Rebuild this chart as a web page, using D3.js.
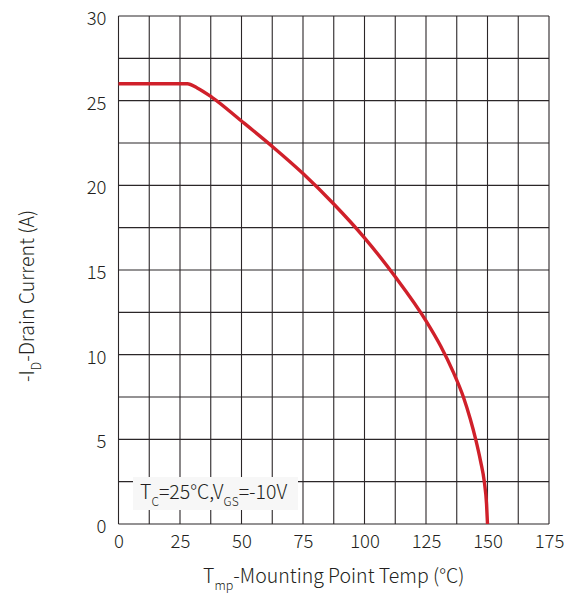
<!DOCTYPE html>
<html>
<head>
<meta charset="utf-8">
<script src="https://cdn.jsdelivr.net/npm/d3@7"></script>
<style>
  body { margin: 0; background: #fff; }
  text { font-family: "Noto Sans CJK SC", "Noto Sans", sans-serif; font-weight: 300; fill: #231f20; }
</style>
</head>
<body>
<div id="chart"></div>
<script>
// Curve: mounting point temp (°C) vs -I_D (A)
var temps    = [0, 28, 32, 38, 50, 62.5, 75, 87.5, 100, 112.5, 125, 131, 136, 140.2, 143, 145.2, 147.2, 148.7, 149.6, 150];
var currents = [26, 26, 25.75, 25.2, 23.8, 22.3, 20.7, 18.9, 16.9, 14.6, 12.0, 10.5, 9.0, 7.5, 6.2, 5.0, 3.7, 2.5, 1.2, 0];

var xTicks = [0, 25, 50, 75, 100, 125, 150, 175];
var yTicks = [0, 5, 10, 15, 20, 25, 30];
var xGrid = d3.range(0, 175.1, 12.5);
var yGrid = d3.range(0, 30.1, 2.5);

var width = 576, height = 594;
var margin = {top: 16, right: 27, bottom: 70, left: 118.5};

var x = d3.scaleLinear().domain([0, 175]).range([margin.left, width - margin.right]);
var y = d3.scaleLinear().domain([0, 30]).range([height - margin.bottom, margin.top]);

var svg = d3.select("#chart").append("svg")
  .attr("width", width)
  .attr("height", height);

// grid
svg.append("g").selectAll("line.v")
  .data(xGrid).enter().append("line")
  .attr("x1", function(d) { return x(d); })
  .attr("x2", function(d) { return x(d); })
  .attr("y1", y(0)).attr("y2", y(30))
  .attr("stroke", "#2b2628").attr("stroke-width", 1.1);

svg.append("g").selectAll("line.h")
  .data(yGrid).enter().append("line")
  .attr("y1", function(d) { return y(d); })
  .attr("y2", function(d) { return y(d); })
  .attr("x1", x(0)).attr("x2", x(175))
  .attr("stroke", "#2b2628").attr("stroke-width", 1.1);

// axes (labels only)
var xAxis = d3.axisBottom(x).tickValues(xTicks).tickSize(0).tickPadding(11);
var gx = svg.append("g").attr("transform", "translate(0," + y(0) + ")").call(xAxis);
gx.select(".domain").remove();
gx.selectAll("text").style("font-size", "18.5px").attr("fill", "#231f20");

var yAxis = d3.axisLeft(y).tickValues(yTicks).tickSize(0).tickPadding(12);
var gy = svg.append("g").attr("transform", "translate(" + x(0) + ",2.5)").call(yAxis);
gy.select(".domain").remove();
gy.selectAll("text").style("font-size", "18.5px").attr("fill", "#231f20");

// condition label
svg.append("rect")
  .attr("x", 133).attr("y", 477).attr("width", 165).attr("height", 33)
  .attr("fill", "#f7f7f7");

var cond = svg.append("text")
  .attr("x", 140).attr("y", 498.5)
  .style("font-size", "19.5px");
cond.append("tspan").text("T");
cond.append("tspan").attr("dy", 7).style("font-size", "12px").text("C");
cond.append("tspan").attr("dy", -7).text("=25°C,V");
cond.append("tspan").attr("dy", 7).style("font-size", "12px").text("GS");
cond.append("tspan").attr("dy", -7).text("=-10V");

// curve
var line = d3.line()
  .x(function(d, i) { return x(temps[i]); })
  .y(function(d) { return y(d); })
  .curve(d3.curveMonotoneX);

svg.append("path")
  .datum(currents)
  .attr("d", line)
  .attr("fill", "none")
  .attr("stroke", "#d0202a")
  .attr("stroke-width", 3.4);

// axis titles
var xt = svg.append("text")
  .attr("x", x(87.5)).attr("y", 583)
  .attr("text-anchor", "middle")
  .style("font-size", "19.5px");
xt.append("tspan").text("T");
xt.append("tspan").attr("dy", 7).style("font-size", "12.5px").text("mp");
xt.append("tspan").attr("dy", -7).text("-Mounting Point Temp (°C)");

var yt = svg.append("text")
  .attr("transform", "translate(34,296) rotate(-90)")
  .attr("text-anchor", "middle")
  .style("font-size", "19.5px");
yt.append("tspan").text("-I");
yt.append("tspan").attr("dy", 7).style("font-size", "12.5px").text("D");
yt.append("tspan").attr("dy", -7).text("-Drain Current (A)");
</script>
</body>
</html>
